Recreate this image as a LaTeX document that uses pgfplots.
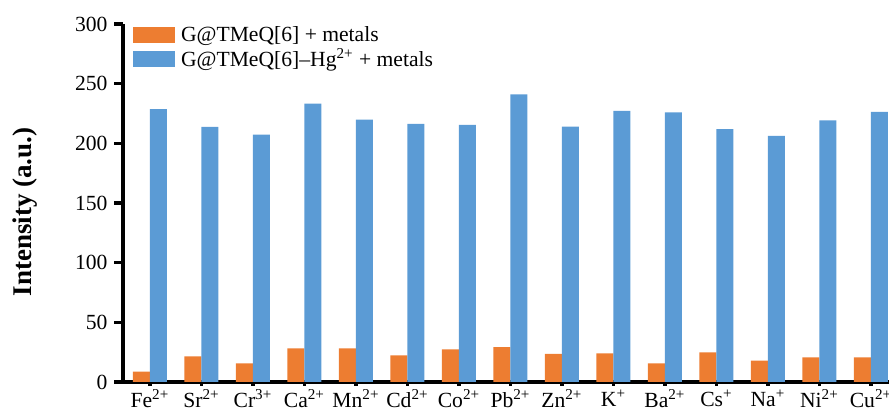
\documentclass[border=0pt]{standalone}
\usepackage{fontspec}
\setmainfont{Liberation Serif}
\usepackage{pgfplots}
\pgfplotsset{compat=1.18}
\definecolor{myorange}{HTML}{ED7D31}
\definecolor{myblue}{HTML}{5B9BD5}
\pgfplotsset{mylegend/.style={legend image code/.code={\fill[##1] (0pt,-4pt) rectangle (21pt,4pt); \path (22pt,0pt);}}}
\begin{document}
\begin{tikzpicture}
\useasboundingbox (0,0) rectangle (444.5pt,208.5pt);
\clip (0,0) rectangle (444.5pt,208.5pt);
\begin{axis}[
  at={(61.5pt,17.5pt)}, anchor=south west,
  scale only axis, width=383pt, height=179pt,
  xmin=-0.524, xmax=14.35, ymin=0, ymax=300,
  ybar=0pt, bar width=0.33,
  axis x line*=bottom, axis y line*=left,
  axis line style={line width=1.6pt, black},
  ytick={0,50,...,300},
  xtick={0,...,14},
  xticklabels={Fe\textsuperscript{2+}, Sr\textsuperscript{2+}, Cr\textsuperscript{3+}, Ca\textsuperscript{2+}, Mn\textsuperscript{2+}, Cd\textsuperscript{2+}, Co\textsuperscript{2+}, Pb\textsuperscript{2+}, Zn\textsuperscript{2+}, K\textsuperscript{+}, Ba\textsuperscript{2+}, Cs\textsuperscript{+}, Na\textsuperscript{+}, Ni\textsuperscript{2+}, Cu\textsuperscript{2+}},
  tick align=outside,
  major tick length=4.5pt,
  tick style={line width=1.6pt, black},
  x tick style={/pgfplots/major tick length=2pt},
  tick label style={font=\fontsize{10.8}{13}\selectfont},
  xticklabel style={yshift=1.8pt, inner sep=1pt},
  yticklabel style={xshift=0.3pt},
  /pgf/number format/assume math mode=true,
  ylabel={Intensity (a.u.)},
  ylabel style={font=\fontsize{13.5}{16}\selectfont\bfseries, at={(axis description cs:-0.128,0.475)}, anchor=center},
  legend cell align=left,
  legend style={at={(axis description cs:0,1)}, anchor=north west, xshift=4.85pt, yshift=1pt, draw=none, fill=none, inner sep=0pt, row sep=-2pt, font=\fontsize{10.8}{13}\selectfont},
]
\addplot[fill=myorange, draw=none, mylegend] coordinates {
(0,8.6) (1,21.5) (2,15.6) (3,28.2) (4,28.2) (5,22.4) (6,27.4) (7,29.3)
(8,23.5) (9,24.0) (10,15.6) (11,24.9) (12,17.9) (13,20.7) (14,20.7)};
\addplot[fill=myblue, draw=none, mylegend] coordinates {
(0,228.6) (1,213.7) (2,207.3) (3,233.3) (4,219.9) (5,216.3) (6,215.4) (7,241.1)
(8,213.9) (9,227.2) (10,226.0) (11,212.0) (12,206.2) (13,219.3) (14,226.3)};
\legend{G@TMeQ[6] + metals, G@TMeQ[6]--Hg\textsuperscript{2+} + metals}
\end{axis}
\end{tikzpicture}
\end{document}
